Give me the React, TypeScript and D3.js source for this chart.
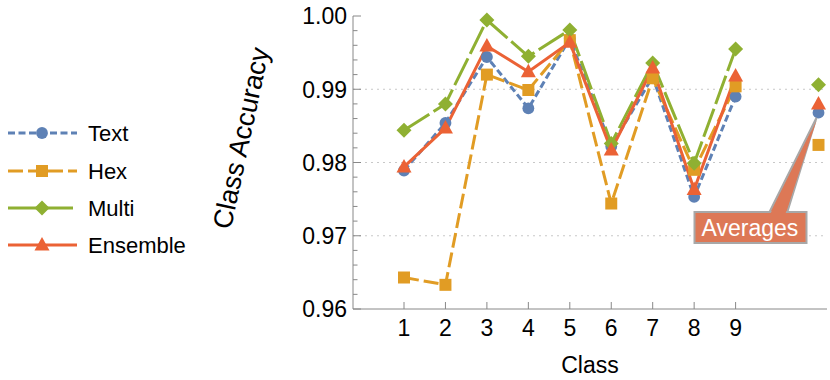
import React, { useEffect, useRef } from "react";
import * as d3 from "d3";

const classes = [1, 2, 3, 4, 5, 6, 7, 8, 9];
const avgX = 11;

const textAcc = [0.9789, 0.9854, 0.9944, 0.9874, 0.9969, 0.9822, 0.9917, 0.9753, 0.989];
const hexAcc = [0.9643, 0.9633, 0.992, 0.9899, 0.9967, 0.9744, 0.9915, 0.979, 0.9904];
const multiAcc = [0.9844, 0.988, 0.99945, 0.9945, 0.9981, 0.9826, 0.9936, 0.9799, 0.9955];
const ensAcc = [0.9794, 0.9847, 0.9959, 0.9924, 0.9964, 0.9817, 0.9929, 0.9763, 0.9918];

const averages = [0.9868, 0.9824, 0.9906, 0.988];
const seriesNames = ["Text", "Hex", "Multi", "Ensemble"];
const colors = ["#5E81B5", "#E19C24", "#8FB032", "#EB6235"];
const dashes = ["7,3.5", "15,5", "30,5", "none"];
const yTicks = [0.96, 0.97, 0.98, 0.99, 1.0];

// marker shapes (Mathematica-like)
const marker = (s: number) => {
  if (s === 0) return d3.symbol().type(d3.symbolCircle).size(110)();
  if (s === 1) return "M-6,-6H6V6H-6Z";
  if (s === 2) return "M0,-7.5L7.5,0L0,7.5L-7.5,0Z";
  return "M0,-8L7.5,5.5L-7.5,5.5Z";
};

const App = () => {
  const ref = useRef(null);

  useEffect(() => {
    const svg = d3.select(ref.current);
    svg.selectAll("*").remove();
    const font = "'Liberation Sans', Arial, sans-serif";

    const x = d3.scaleLinear().domain([1, 9]).range([404, 735.6]);
    const y = d3.scaleLinear().domain([0.96, 1.0]).range([309, 16]);
    const left = 353;
    const right = 827;

    // gridlines
    svg
      .append("g")
      .selectAll("line")
      .data([0.97, 0.98, 0.99])
      .join("line")
      .attr("x1", left)
      .attr("x2", right)
      .attr("y1", (d) => y(d))
      .attr("y2", (d) => y(d))
      .attr("stroke", "#c8c8c8")
      .attr("stroke-width", 1)
      .attr("stroke-dasharray", "2,4");

    // axes
    const ax = svg.append("g").attr("stroke", "#888").attr("stroke-width", 1);
    ax.append("line").attr("x1", left).attr("x2", left).attr("y1", 16).attr("y2", 309);
    ax.append("line").attr("x1", left).attr("x2", right).attr("y1", 309).attr("y2", 309);
    ax.selectAll(".minor")
      .data(d3.range(0, 21).map((i) => 0.96 + i * 0.002))
      .join("line")
      .attr("x1", left)
      .attr("x2", (d, i) => left + (i % 5 === 0 ? 8 : 4.5))
      .attr("y1", (d) => y(d))
      .attr("y2", (d) => y(d));
    ax.selectAll(".xt")
      .data(classes)
      .join("line")
      .attr("x1", (d) => x(d))
      .attr("x2", (d) => x(d))
      .attr("y1", 309)
      .attr("y2", 302);

    svg
      .append("g")
      .selectAll("text")
      .data(yTicks)
      .join("text")
      .attr("x", 347)
      .attr("y", (d) => y(d))
      .attr("dy", "0.36em")
      .attr("text-anchor", "end")
      .style("font", `23px ${font}`)
      .text((d) => d3.format(".2f")(d));

    svg
      .append("g")
      .selectAll("text")
      .data(classes)
      .join("text")
      .attr("x", (d) => x(d))
      .attr("y", 336)
      .attr("text-anchor", "middle")
      .style("font", `23px ${font}`)
      .text((d) => d);

    svg
      .append("text")
      .attr("x", 590)
      .attr("y", 373)
      .attr("text-anchor", "middle")
      .style("font", `23px ${font}`)
      .text("Class");

    svg
      .append("text")
      .attr("transform", "translate(250,140) rotate(-78)")
      .attr("text-anchor", "middle")
      .style("font", `27px ${font}`)
      .text("Class Accuracy");

    const all = [textAcc, hexAcc, multiAcc, ensAcc];
    const line = d3
      .line<number>()
      .x((d, i) => x(classes[i]))
      .y((d) => y(d));

    all.forEach((vals, s) => {
      svg
        .append("path")
        .attr("d", line(vals))
        .attr("fill", "none")
        .attr("stroke", colors[s])
        .attr("stroke-width", 3)
        .attr("stroke-dasharray", dashes[s]);
    });
    all.forEach((vals, s) => {
      svg
        .append("g")
        .selectAll("path")
        .data([...vals.map((v, i) => [classes[i], v]), [avgX, averages[s]]])
        .join("path")
        .attr("transform", (d) => `translate(${x(d[0])},${y(d[1])})`)
        .attr("d", marker(s))
        .attr("fill", colors[s]);
    });

    // callout
    const tip = [x(avgX) - 2, y(averages[0]) + 5];
    const call = svg.append("g");
    call
      .append("path")
      .attr("d", `M769,213 L${tip[0]},${tip[1]} L787,213 Z`)
      .attr("fill", "#DD7856")
      .attr("stroke", "#a8a8a8")
      .attr("stroke-width", 2);
    call
      .append("rect")
      .attr("x", 694.5)
      .attr("y", 212)
      .attr("width", 112)
      .attr("height", 31)
      .attr("fill", "#DD7856")
      .attr("stroke", "#a8a8a8")
      .attr("stroke-width", 2);
    call
      .append("path")
      .attr("d", `M770.5,213.5 L${tip[0]},${tip[1] + 3} L785.5,213.5 Z`)
      .attr("fill", "#DD7856");
    call
      .append("text")
      .attr("x", 750)
      .attr("y", 236)
      .attr("text-anchor", "middle")
      .attr("fill", "white")
      .style("font", `23px ${font}`)
      .text("Averages");

    // legend
    const lg = svg.append("g");
    const ly = [133, 171, 208, 245];
    seriesNames.forEach((name, s) => {
      lg.append("line")
        .attr("x1", 8)
        .attr("x2", 77)
        .attr("y1", ly[s])
        .attr("y2", ly[s])
        .attr("stroke", colors[s])
        .attr("stroke-width", 3)
        .attr("stroke-dasharray", dashes[s]);
      lg.append("path")
        .attr("transform", `translate(42,${ly[s]})`)
        .attr("d", marker(s))
        .attr("fill", colors[s]);
      lg.append("text")
        .attr("x", 88)
        .attr("y", ly[s])
        .attr("dy", "0.36em")
        .style("font", `22px ${font}`)
        .text(name);
    });
  }, []);

  return (
    <svg
      ref={ref}
      width={830}
      height={380}
      style={{ position: "absolute", left: 0, top: 0, background: "white" }}
    />
  );
};

export default App;
